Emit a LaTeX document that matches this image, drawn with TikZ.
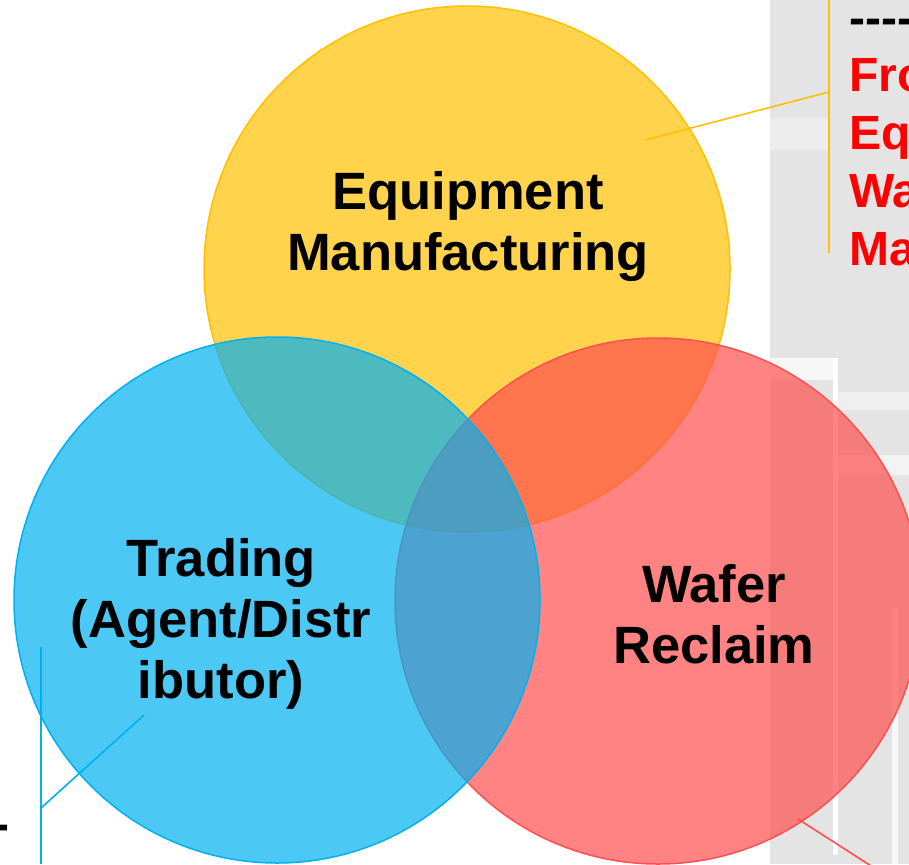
\documentclass[tikz,border=0pt]{standalone}
\usepackage{fontspec}
\setmainfont{Liberation Sans}
\definecolor{eqyellow}{HTML}{FFC000}
\definecolor{trblue}{HTML}{00B0F0}
\definecolor{wfred}{HTML}{FF4F4F}
\definecolor{panelgray}{HTML}{E4E4E4}
\definecolor{notered}{HTML}{FF0000}
\tikzset{
  venn/.style={fill opacity=0.7, line width=1.5pt},
  circtext/.style={font=\fontsize{52.5}{61}\selectfont\bfseries, align=center, inner sep=0pt},
  notetext/.style={font=\fontsize{48}{57.7}\selectfont\bfseries, text=notered, inner sep=0pt, anchor=base west},
  leader/.style={line width=1.6pt}
}
\begin{document}
\begin{tikzpicture}[x=1pt,y=-1pt]
\useasboundingbox (0,0) rectangle (909,864);
\clip (0,0) rectangle (909,864);
%\draw[help lines, color=gray!30] (0,0) grid[step=50] (909,864);
% background slide panel
\fill [panelgray] (770,0) rectangle (909,864);
\fill [white!35!panelgray] (770,118) rectangle (828,150);
\fill [white!70!panelgray] (770,358) rectangle (838,380);
\fill [white!40!panelgray] (838,392) rectangle (909,410);
\fill [white!55!panelgray] (838,455) rectangle (909,475);
\fill [white] (833,358) rectangle (838,855);
\fill [white!70!panelgray] (892,608) rectangle (898,864);
% circles
\coordinate (eqc) at (467,269);
\coordinate (wfc) at (658,601);
\coordinate (trc) at (277,600);
\draw [venn, draw=eqyellow, fill=eqyellow] (eqc) circle [radius=263pt];
\draw [venn, draw=wfred, fill=wfred] (wfc) circle [radius=263pt];
\draw [venn, draw=trblue, fill=trblue] (trc) circle [radius=263pt];
% labels
\node [circtext] (equip) at (468,227) {Equipment\\Manufacturing};
\node [circtext] (trade) at (221,624) {Trading\\(Agent/Distr\\ibutor)};
\node [circtext] (wafer) at (714,614) {Wafer\\Reclaim};
% leader lines
\coordinate (eqtip) at (645,140);
\coordinate (eqknee) at (829,92);
\coordinate (eqtop) at (829,0);
\coordinate (eqbot) at (829,253);
\draw [leader, eqyellow] (eqtip) -- (eqknee);
\draw [leader, eqyellow] (eqtop) -- (eqbot);
\coordinate (trtip) at (144,715);
\coordinate (trknee) at (41,808);
\coordinate (trtop) at (41,647);
\coordinate (trbot) at (41,864);
\draw [leader, trblue] (trtip) -- (trknee);
\draw [leader, trblue] (trtop) -- (trbot);
\coordinate (wftip) at (798,819);
\coordinate (wfout) at (882,873);
\draw [leader, wfred] (wftip) -- (wfout);
% note text at the right
\node [notetext, text=black] (dashes) at (849,34.3) {-\kern0pt-\kern0pt-\kern0pt-\kern0pt-};
\foreach \txt [count=\i] in {Fro,Eq,Wa,Ma}
  \node [notetext] (note\i) at (849,34.3+57.7*\i) {\txt};
\node [notetext, text=black] (lefthyph) at (-7,840) {-};
\end{tikzpicture}
\end{document}
